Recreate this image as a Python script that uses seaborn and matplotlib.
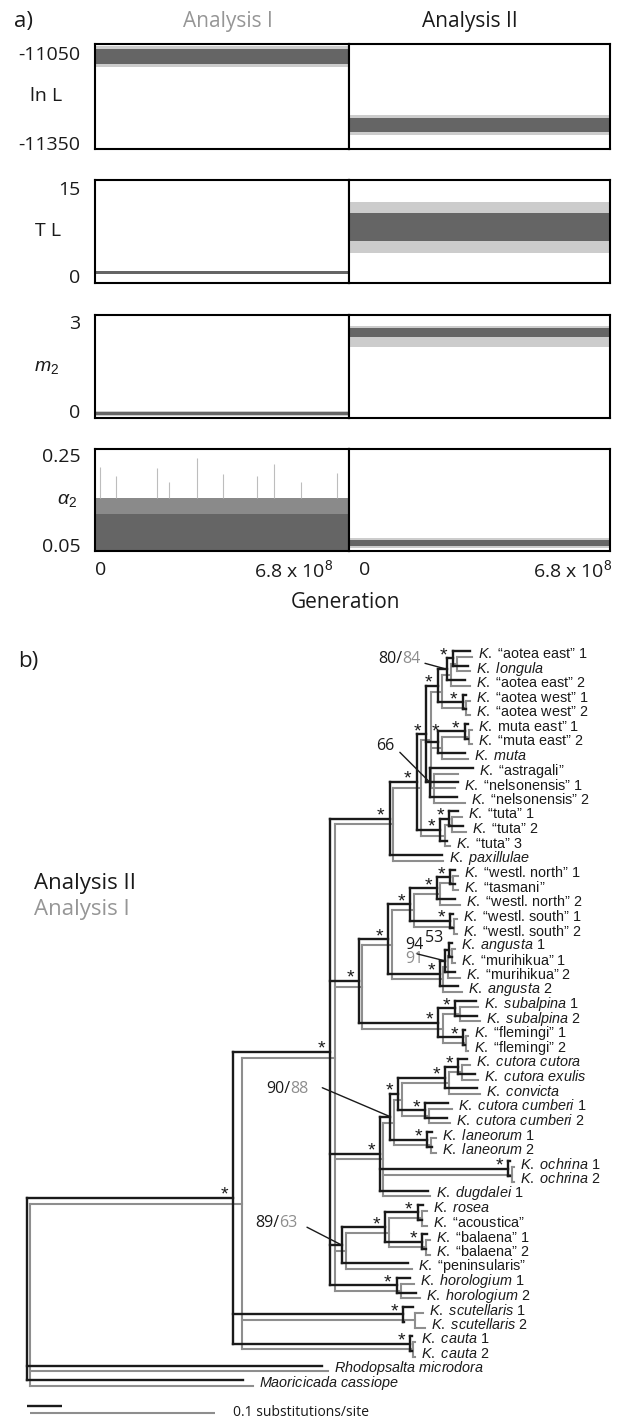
import matplotlib
matplotlib.use("Agg")
import matplotlib.pyplot as plt
from matplotlib.collections import LineCollection
import seaborn as sns

sns.set_theme(style="white")
plt.rcParams.update({
    "font.family": ["Open Sans", "DejaVu Sans"],
    "mathtext.fontset": "custom",
    "mathtext.rm": "Liberation Sans",
    "mathtext.it": "Liberation Sans:italic",
    "mathtext.bf": "Liberation Sans:bold",
    "axes.edgecolor": "black",
    "text.color": "#1a1a1a",
    "ytick.color": "#1a1a1a",
    "xtick.color": "#1a1a1a",
})

# ------------------------------------------------------------------ data (a)
GEN = [0.0, 6.8e8]                      # generations sampled in each run
PARAMS = ["lnL", "TL", "m2", "alpha2"]
PARAM_LABELS = ["ln L", "T L", r"$\mathit{m}_{\mathrm{2}}$", r"$\alpha_{\mathrm{2}}$"]
TICKS = {"lnL": [-11350, -11050], "TL": [0, 15], "m2": [0, 3], "alpha2": [0.05, 0.25]}
TICKLABELS = {"lnL": ["-11350", "-11050"], "TL": ["0", "15"], "m2": ["0", "3"],
              "alpha2": ["0.05", "0.25"]}
# dense core of each trace and extent of its fluctuations (low, high)
CORE_I = {"lnL": (-11087, -11038), "TL": (0.40, 0.80), "m2": (-0.15, -0.03), "alpha2": (0.037, 0.120)}
RANGE_I = {"lnL": (-11096, -11028), "TL": (0.30, 0.90), "m2": (-0.18, 0.0), "alpha2": (0.037, 0.154)}
CORE_II = {"lnL": (-11314, -11268), "TL": (5.9, 10.7), "m2": (2.47, 2.78), "alpha2": (0.047, 0.062)}
RANGE_II = {"lnL": (-11323, -11257), "TL": (3.9, 12.7), "m2": (2.16, 2.87), "alpha2": (0.043, 0.065)}
ALPHA_I_SPIKE_GEN = [0.13e8, 0.56e8, 1.66e8, 1.98e8, 2.73e8, 3.43e8, 4.34e8, 4.79e8, 5.51e8, 6.48e8]
ALPHA_I_SPIKE_VAL = [0.224, 0.204, 0.222, 0.190, 0.244, 0.207, 0.203, 0.231, 0.190, 0.210]
YLIMS = {"lnL": (-11370, -11020), "TL": (-1.2, 16.4), "m2": (-0.246, 3.226), "alpha2": (0.0367, 0.2633)}

# ------------------------------------------------------------------ data (b)
# tree topology in pre-order (child: parent); tips appear in display order
PARENT = {
    "I0": "R", "A": "I0", "B": "A", "P2": "B", "U": "P2", "V": "U", "Vae": "V", "Vae1": "Vae",
    "ae1": "Vae1", "lon": "Vae1", "ae2": "Vae", "Vaw": "V", "aw1": "Vaw", "aw2": "Vaw",
    "W": "U", "Wme": "W", "me1": "Wme", "me2": "Wme", "muta": "W",
    "X": "U", "astr": "X", "nel1": "X", "nel2": "X",
    "T": "P2", "T1": "T", "tuta1": "T1", "tuta2": "T1", "tuta3": "T", "pax": "B",
    "Q": "A", "Qa": "Q", "Z": "Qa", "Zn": "Z", "Zn1": "Zn", "wn1": "Zn1", "tas": "Zn1", "wn2": "Zn",
    "Zs": "Z", "ws1": "Zs", "ws2": "Zs", "Y": "Qa", "Y1": "Y", "Y2": "Y1", "ang1": "Y2", "mur1": "Y2",
    "mur2": "Y1", "ang2": "Y", "S": "Q", "Ssub": "S", "sub1": "Ssub", "sub2": "Ssub",
    "Sfl": "S", "fl1": "Sfl", "fl2": "Sfl",
    "D": "A", "H": "D", "J": "H", "K": "J", "M": "K", "cc": "M", "ce": "M", "conv": "K",
    "L": "J", "cum1": "L", "cum2": "L", "Lan": "H", "lan1": "Lan", "lan2": "Lan",
    "Och": "D", "och1": "Och", "och2": "Och", "dug": "D",
    "E": "A", "G": "E", "Gr": "G", "rosea": "Gr", "acou": "Gr", "Gb": "G", "bal1": "Gb", "bal2": "Gb",
    "pen": "E", "F": "A", "horo1": "F", "horo2": "F",
    "Sc": "I0", "scut1": "Sc", "scut2": "Sc", "Ca": "I0", "cau1": "Ca", "cau2": "Ca",
    "rhodo": "R", "maori": "R",
}
# branch lengths (substitutions/site), Analysis II (black)
BL_II = {
    "I0": 0.589, "A": 0.277, "B": 0.171, "P2": 0.077, "U": 0.026, "V": 0.034, "Vae": 0.026, "Vae1": 0.017,
    "ae1": 0.049, "lon": 0.043, "ae2": 0.051, "Vaw": 0.071, "aw1": 0.009, "aw2": 0.009,
    "W": 0.034, "Wme": 0.077, "me1": 0.009, "me2": 0.009, "muta": 0.077,
    "X": 0.011, "astr": 0.123, "nel1": 0.080, "nel2": 0.077,
    "T": 0.066, "T1": 0.026, "tuta1": 0.026, "tuta2": 0.040, "tuta3": 0.020, "pax": 0.149,
    "Q": 0.083, "Qa": 0.083, "Z": 0.063, "Zn": 0.077, "Zn1": 0.037, "wn1": 0.014, "tas": 0.014,
    "wn2": 0.051, "Zs": 0.114, "ws1": 0.009, "ws2": 0.009, "Y": 0.149, "Y1": 0.014, "Y2": 0.011,
    "ang1": 0.009, "mur1": 0.009, "mur2": 0.029, "ang2": 0.051, "S": 0.226, "Ssub": 0.049,
    "sub1": 0.060, "sub2": 0.063, "Sfl": 0.071, "fl1": 0.006, "fl2": 0.006,
    "D": 0.143, "H": 0.029, "J": 0.023, "K": 0.134, "M": 0.037, "cc": 0.026, "ce": 0.049,
    "conv": 0.091, "L": 0.077, "cum1": 0.066, "cum2": 0.063, "Lan": 0.106, "lan1": 0.014,
    "lan2": 0.014, "Och": 0.366, "och1": 0.006, "och2": 0.006, "dug": 0.137,
    "E": 0.034, "G": 0.123, "Gr": 0.094, "rosea": 0.014, "acou": 0.011, "Gb": 0.106,
    "bal1": 0.014, "bal2": 0.011, "pen": 0.189, "F": 0.191, "horo1": 0.037, "horo2": 0.054,
    "Sc": 0.486, "scut1": 0.029, "scut2": 0.003, "Ca": 0.506, "cau1": 0.006, "cau2": 0.006,
    "rhodo": 0.843, "maori": 0.617,
}
# branch lengths (substitutions/site), Analysis I (grey)
BL_I = {
    "I0": 0.1146, "A": 0.0503, "B": 0.0314, "P2": 0.0151, "U": 0.0054, "V": 0.0059, "Vae": 0.0049,
    "Vae1": 0.0032, "ae1": 0.0081, "lon": 0.0070, "ae2": 0.0103, "Vaw": 0.0130, "aw1": 0.0022,
    "aw2": 0.0022, "W": 0.0059, "Wme": 0.0146, "me1": 0.0016, "me2": 0.0016, "muta": 0.0141,
    "X": 0.0016, "astr": 0.0130, "nel1": 0.0114, "nel2": 0.0168,
    "T": 0.0130, "T1": 0.0038, "tuta1": 0.0054, "tuta2": 0.0076, "tuta3": 0.0027, "pax": 0.0270,
    "Q": 0.0146, "Qa": 0.0162, "Z": 0.0119, "Zn": 0.0141, "Zn1": 0.0070, "wn1": 0.0027,
    "tas": 0.0027, "wn2": 0.0108, "Zs": 0.0216, "ws1": 0.0016, "ws2": 0.0016, "Y": 0.0276,
    "Y1": 0.0027, "Y2": 0.0022, "ang1": 0.0016, "mur1": 0.0016, "mur2": 0.0065, "ang2": 0.0103,
    "S": 0.0438, "Ssub": 0.0092, "sub1": 0.0097, "sub2": 0.0108, "Sfl": 0.0124, "fl1": 0.0011,
    "fl2": 0.0011, "D": 0.0259, "H": 0.0059, "J": 0.0043, "K": 0.0254, "M": 0.0070, "cc": 0.0043,
    "ce": 0.0086, "conv": 0.0168, "L": 0.0146, "cum1": 0.0124, "cum2": 0.0114, "Lan": 0.0200,
    "lan1": 0.0027, "lan2": 0.0027, "Och": 0.0697, "och1": 0.0011, "och2": 0.0011, "dug": 0.0254,
    "E": 0.0059, "G": 0.0232, "Gr": 0.0178, "rosea": 0.0027, "acou": 0.0027, "Gb": 0.0200,
    "bal1": 0.0022, "bal2": 0.0022, "pen": 0.0357, "F": 0.0357, "horo1": 0.0070, "horo2": 0.0103,
    "Sc": 0.0935, "scut1": 0.0043, "scut2": 0.0054, "Ca": 0.0924, "cau1": 0.0011, "cau2": 0.0011,
    "rhodo": 0.1611, "maori": 0.1205,
}
TIP_LABELS = {
    "ae1": r"$\mathit{K.}$ “aotea east” 1", "lon": r"$\mathit{K.\ longula}$",
    "ae2": r"$\mathit{K.}$ “aotea east” 2", "aw1": r"$\mathit{K.}$ “aotea west” 1",
    "aw2": r"$\mathit{K.}$ “aotea west” 2", "me1": r"$\mathit{K.}$ muta east” 1",
    "me2": r"$\mathit{K.}$ “muta east” 2", "muta": r"$\mathit{K.\ muta}$",
    "astr": r"$\mathit{K.}$ “astragali”", "nel1": r"$\mathit{K.}$ “nelsonensis” 1",
    "nel2": r"$\mathit{K.}$ “nelsonensis” 2", "tuta1": r"$\mathit{K.}$ “tuta” 1",
    "tuta2": r"$\mathit{K.}$ “tuta” 2", "tuta3": r"$\mathit{K.}$ “tuta” 3",
    "pax": r"$\mathit{K.\ paxillulae}$", "wn1": r"$\mathit{K.}$ “westl. north” 1",
    "tas": r"$\mathit{K.}$ “tasmani”", "wn2": r"$\mathit{K.}$ “westl. north” 2",
    "ws1": r"$\mathit{K.}$ “westl. south” 1", "ws2": r"$\mathit{K.}$ “westl. south” 2",
    "ang1": r"$\mathit{K.\ angusta}$ 1", "mur1": r"$\mathit{K.}$ “murihikua” 1",
    "mur2": r"$\mathit{K.}$ “murihikua” 2", "ang2": r"$\mathit{K.\ angusta}$ 2",
    "sub1": r"$\mathit{K.\ subalpina}$ 1", "sub2": r"$\mathit{K.\ subalpina}$ 2",
    "fl1": r"$\mathit{K.}$ “flemingi” 1", "fl2": r"$\mathit{K.}$ “flemingi” 2",
    "cc": r"$\mathit{K.\ cutora\ cutora}$", "ce": r"$\mathit{K.\ cutora\ exulis}$",
    "conv": r"$\mathit{K.\ convicta}$", "cum1": r"$\mathit{K.\ cutora\ cumberi}$ 1",
    "cum2": r"$\mathit{K.\ cutora\ cumberi}$ 2", "lan1": r"$\mathit{K.\ laneorum}$ 1",
    "lan2": r"$\mathit{K.\ laneorum}$ 2", "och1": r"$\mathit{K.\ ochrina}$ 1",
    "och2": r"$\mathit{K.\ ochrina}$ 2", "dug": r"$\mathit{K.\ dugdalei}$ 1",
    "rosea": r"$\mathit{K.\ rosea}$", "acou": r"$\mathit{K.}$ “acoustica”",
    "bal1": r"$\mathit{K.}$ “balaena” 1", "bal2": r"$\mathit{K.}$ “balaena” 2",
    "pen": r"$\mathit{K.}$ “peninsularis”", "horo1": r"$\mathit{K.\ horologium}$ 1",
    "horo2": r"$\mathit{K.\ horologium}$ 2", "scut1": r"$\mathit{K.\ scutellaris}$ 1",
    "scut2": r"$\mathit{K.\ scutellaris}$ 2", "cau1": r"$\mathit{K.\ cauta}$ 1",
    "cau2": r"$\mathit{K.\ cauta}$ 2", "rhodo": r"$\mathit{Rhodopsalta\ microdora}$",
    "maori": r"$\mathit{Maoricicada\ cassiope}$",
}
STAR_NODES = ["Vae1", "V", "Vaw", "U", "W", "Wme", "P2", "T1", "T", "B", "Zn1", "Zn", "Z", "Zs",
              "Qa", "Y", "Q", "Ssub", "S", "Sfl", "A", "M", "K", "J", "L", "Lan", "D", "Och",
              "Gr", "G", "Gb", "F", "Sc", "Ca", "I0"]
SUPPORT = {"Vae": ("80", "84"), "X": ("66", None), "Y1": ("94", "91"), "Y2": ("53", None),
           "H": ("90", "88"), "E": ("89", "63")}
SCALE_LEN = 0.1

# ------------------------------------------------------------------ styles
W, H = 628, 1418
BLACK, GREY = "#1a1a1a", "#8e8e8e"
CORE_C, HALO_C, MID_C = "#656565", "#cccccc", "#8a8a8a"

fig = plt.figure(figsize=(W / 100, H / 100), dpi=100)


def rect(x0, y0, x1, y1):
    return [x0 / W, 1 - y1 / H, (x1 - x0) / W, (y1 - y0) / H]


def ftext(x, y, s, **kw):
    return fig.text(x / W, 1 - y / H, s, **kw)


# ------------------------------------------------------------------ panel a
ROWS = [(44, 149), (180, 283), (315, 418), (449, 551)]
XS = [95, 349, 610]
LABEL_POS = [(46, 96), (48, 231), (47, 367), (67, 500)]
for r, key in enumerate(PARAMS):
    for c, (core, rng) in enumerate([(CORE_I, RANGE_I), (CORE_II, RANGE_II)]):
        ax = fig.add_axes(rect(XS[c], ROWS[r][0], XS[c + 1], ROWS[r][1]))
        lo, hi = rng[key]
        ax.fill_between(GEN, [lo, lo], [hi, hi], color=MID_C if key == "alpha2" and c == 0 else HALO_C,
                        lw=0)
        lo, hi = core[key]
        ax.fill_between(GEN, [lo, lo], [hi, hi], color=CORE_C, lw=0)
        if key == "alpha2" and c == 0:
            ax.vlines(ALPHA_I_SPIKE_GEN, RANGE_I[key][1], ALPHA_I_SPIKE_VAL, color="#bdbdbd", lw=0.8)
        ax.set_xlim(GEN)
        ax.set_ylim(YLIMS[key])
        ax.set_xticks([])
        for sp in ax.spines.values():
            sp.set_visible(True)
            sp.set_color("black")
            sp.set_linewidth(1.5)
        if c == 0:
            ax.set_yticks(TICKS[key])
            ax.set_yticklabels(TICKLABELS[key], fontsize=14)
            ax.tick_params(axis="y", length=0, pad=10.5)
        else:
            ax.set_yticks([])
        if r == 3:
            ax.annotate("0", xy=(GEN[0], 0), xycoords=("data", "axes fraction"),
                        xytext=(0 if c == 0 else 10, -19), textcoords="offset pixels",
                        ha="left", va="center", fontsize=14, annotation_clip=False)
            ax.annotate(r"6.8 x 10$^{\mathrm{8}}$", xy=(GEN[1], 0), xycoords=("data", "axes fraction"),
                        xytext=(-16 if c == 0 else 2, -19), textcoords="offset pixels",
                        ha="right", va="center", fontsize=14, annotation_clip=False)
    ftext(*LABEL_POS[r], PARAM_LABELS[r], ha="center", va="center", fontsize=14)

ftext(14, 22, "a)", ha="left", va="center", fontsize=16)
ftext(228, 21, "Analysis I", ha="center", va="center", fontsize=15, color="#969696")
ftext(470, 21, "Analysis II", ha="center", va="center", fontsize=15)
ftext(345, 603, "Generation", ha="center", va="center", fontsize=15)

# ------------------------------------------------------------------ panel b
CHILDREN = {"R": []}
for n in PARENT:
    CHILDREN[n] = []
for n, p in PARENT.items():
    CHILDREN[p].append(n)
TIPS = [n for n in PARENT if not CHILDREN[n]]


def layout(bl):
    x = {"R": 0.0}
    for n, p in PARENT.items():
        x[n] = x[p] + bl[n]
    y = {t: float(i) for i, t in enumerate(TIPS)}
    for n in list(PARENT)[::-1] + ["R"]:
        if CHILDREN[n]:
            y[n] = (y[CHILDREN[n][0]] + y[CHILDREN[n][-1]]) / 2
    return x, y


TREE_RECT = rect(0, 640, 628, 1418)
YLIM_T = ((1418 - 654) / 14.58, (640 - 654) / 14.58)
ax_g = fig.add_axes(TREE_RECT)
ax_b = fig.add_axes(TREE_RECT)
ax_g.set_xlim(-30 / 1850, 598 / 1850)
ax_b.set_xlim(-27 / 350, 601 / 350)
for ax in (ax_g, ax_b):
    ax.set_ylim(*YLIM_T)
    ax.axis("off")
    ax.patch.set_alpha(0)
sns.despine(ax=ax_b, left=True, bottom=True)

xg, yg = layout(BL_I)
xb, yb = layout(BL_II)
DY_B, DY_G = -0.2, 0.2


def draw_tree(ax, x, y, dy, color, lw):
    segs = []
    for n, p in PARENT.items():
        segs.append([(x[p], y[n] + dy), (x[n], y[n] + dy)])
    for n, ch in CHILDREN.items():
        if ch:
            segs.append([(x[n], y[ch[0]] + dy), (x[n], y[ch[-1]] + dy)])
    lc = LineCollection(segs, colors=color, linewidths=lw)
    lc.set_capstyle("projecting")
    ax.add_collection(lc)


draw_tree(ax_g, xg, yg, DY_G, GREY, 1.5)
draw_tree(ax_b, xb, yb, DY_B, BLACK, 1.7)

TIPFONT = ["Liberation Sans", "DejaVu Sans"]
for i, t in enumerate(TIPS):
    pb = ax_b.transData.transform((xb[t], 0))[0]
    pg = ax_g.transData.transform((xg[t], 0))[0]
    extra = max(pb, pg) - pb + 6
    ax_b.annotate(TIP_LABELS[t], xy=(xb[t], i), xytext=(extra, 0), textcoords="offset pixels",
                  ha="left", va="center", fontsize=10.4, family=TIPFONT, annotation_clip=False)

STAR_OFF = {"W": (-2, 17)}
for n in STAR_NODES:
    dx, dy = STAR_OFF.get(n, (-9, 9))
    ax_b.annotate("*", xy=(xb[n], yb[n] + DY_B), xytext=(dx, dy - 11), textcoords="offset pixels",
                  ha="center", va="baseline", fontsize=14, family=TIPFONT, annotation_clip=False)

# support values: label offset (left edge, centre) and leader start, in pixels from the node
SUP_LAYOUT = {"Vae": ((-69, -10), (-22, -6)), "X": ((-54, -36), (-30, -30)),
              "Y1": ((-40, -16), (-28, -7)), "Y2": ((-24, -12), None),
              "H": ((-124, -28), (-68, -29)), "E": ((-87, -22), (-35, -18))}
for n, (a, b) in SUPPORT.items():
    node = (xb[n], yb[n] + DY_B)
    (lx, ly), lead = SUP_LAYOUT[n]
    if n == "Y1":
        ax_b.annotate(a, xy=node, xytext=(lx, -ly), textcoords="offset pixels", ha="left",
                      va="center", fontsize=11.5, annotation_clip=False)
        ax_b.annotate(b, xy=node, xytext=(lx, -ly - 14), textcoords="offset pixels", ha="left",
                      va="center", fontsize=11.5, color=GREY, annotation_clip=False)
    else:
        t1 = ax_b.annotate(a + ("/" if b else ""), xy=node, xytext=(lx, -ly),
                           textcoords="offset pixels", ha="left", va="center", fontsize=11.5,
                           annotation_clip=False)
        if b:
            ax_b.annotate(b, xy=(1, 0.5), xycoords=t1, ha="left", va="center", fontsize=11.5,
                          color=GREY, annotation_clip=False)
    if lead is not None:
        ax_b.annotate("", xy=node, xytext=(lead[0], -lead[1]), textcoords="offset pixels",
                      arrowprops=dict(arrowstyle="-", color=BLACK, lw=1.0, shrinkA=0, shrinkB=0),
                      annotation_clip=False)

# scale bars
ax_b.plot([0, SCALE_LEN], [(1406 - 654) / 14.58] * 2, color=BLACK, lw=1.7, solid_capstyle="butt")
ax_g.plot([0, SCALE_LEN], [(1413 - 654) / 14.58] * 2, color=GREY, lw=1.5, solid_capstyle="butt")
ftext(233, 1413, "0.1 substitutions/site", ha="left", va="center", fontsize=10)

ftext(18, 661, "b)", ha="left", va="center", fontsize=16)
ftext(34, 884, "Analysis II", ha="left", va="center", fontsize=16)
ftext(34, 910, "Analysis I", ha="left", va="center", fontsize=16, color="#969696")

fig.savefig("out.png", dpi=100)
